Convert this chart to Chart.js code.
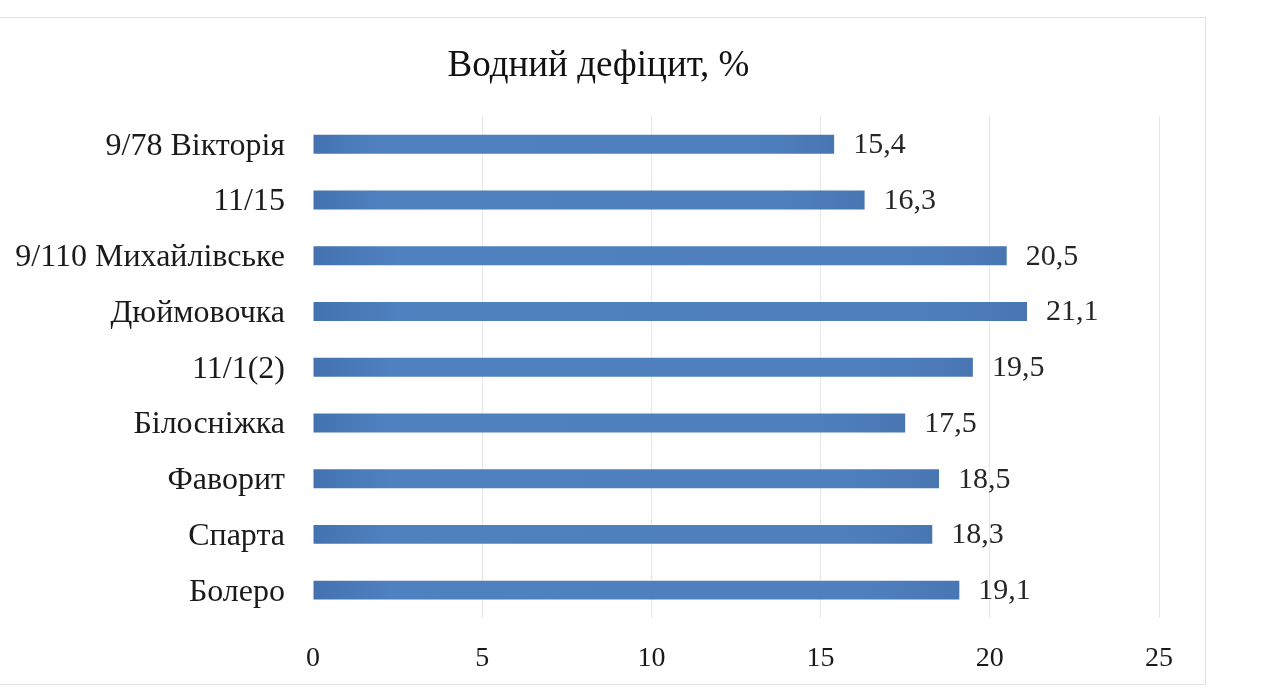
<!DOCTYPE html>
<html>
<head>
<meta charset="utf-8">
<script src="https://cdn.jsdelivr.net/npm/chart.js@4.4.1/dist/chart.umd.min.js"></script>
<style>
  html, body { margin: 0; padding: 0; background: #ffffff; }
  #wrap { position: relative; width: 1274px; height: 695px; overflow: hidden; background: #ffffff; }
  #box { position: absolute; left: -1px; top: 17px; width: 1207px; height: 668px; border: 1px solid #e2e2e2; box-sizing: border-box; }
  #c { position: absolute; left: 0; top: 0; }
</style>
</head>
<body>
<div id="wrap">
  <div id="box"></div>
  <canvas id="c" width="1197" height="695"></canvas>
</div>
<script>
// ---- data ----
const chartTitle = 'Водний дефіцит, %';
const categories = ['9/78 Вікторія', '11/15', '9/110 Михайлівське', 'Дюймовочка', '11/1(2)', 'Білосніжка', 'Фаворит', 'Спарта', 'Болеро'];
const deficitValues = [15.4, 16.3, 20.5, 21.1, 19.5, 17.5, 18.5, 18.3, 19.1];
const xTickValues = [0, 5, 10, 15, 20, 25];

const FONT = '"Liberation Serif", "Times New Roman", serif';

function fmt(v) { return v.toFixed(1).replace('.', ','); }

const valueLabels = {
  id: 'valueLabels',
  afterDatasetsDraw(chart) {
    const ctx = chart.ctx;
    const meta = chart.getDatasetMeta(0);
    ctx.save();
    ctx.font = '30px ' + FONT;
    ctx.fillStyle = '#262626';
    ctx.textAlign = 'left';
    ctx.textBaseline = 'middle';
    meta.data.forEach((el, i) => {
      ctx.fillText(fmt(chart.data.datasets[0].data[i]), el.x + 19, el.y + 1);
    });
    ctx.restore();
  }
};

function barFill(context) {
  const chart = context.chart;
  const xs = chart.scales.x;
  if (!xs || context.dataIndex === undefined) return '#4F81BD';
  const v = context.raw;
  const x0 = xs.getPixelForValue(0);
  const x1 = xs.getPixelForValue(v);
  if (!isFinite(x0) || !isFinite(x1) || x1 <= x0) return '#4F81BD';
  const g = chart.ctx.createLinearGradient(x0, 0, x1, 0);
  g.addColorStop(0, '#4472B0');
  g.addColorStop(0.12, '#4F80BF');
  g.addColorStop(0.85, '#4F80BD');
  g.addColorStop(1, '#4876B3');
  return g;
}

new Chart(document.getElementById('c'), {
  type: 'bar',
  data: {
    labels: categories,
    datasets: [{
      data: deficitValues,
      backgroundColor: barFill,
      borderWidth: 0,
      barPercentage: 0.34,
      categoryPercentage: 1.0
    }]
  },
  options: {
    indexAxis: 'y',
    responsive: false,
    animation: false,
    layout: { padding: { top: 0, left: 0, right: 0, bottom: 22 } },
    plugins: {
      legend: { display: false },
      tooltip: { enabled: false },
      title: {
        display: true,
        text: chartTitle,
        color: '#111111',
        font: { family: FONT, size: 37, weight: 'normal' },
        padding: { top: 44, bottom: 28 }
      }
    },
    scales: {
      x: {
        type: 'linear',
        min: 0,
        max: 25,
        afterBuildTicks(scale) { scale.ticks = xTickValues.map(v => ({ value: v })); },
        afterFit(scale) { scale.height = 55; },
        ticks: {
          color: '#1a1a1a',
          font: { family: FONT, size: 28 },
          padding: 24,
          callback: v => String(v)
        },
        grid: {
          drawTicks: false,
          color: ctx => (ctx.tick && ctx.tick.value === 0) ? 'rgba(0,0,0,0)' : '#e6e6e6',
          lineWidth: 1
        },
        border: { display: false }
      },
      y: {
        type: 'category',
        position: 'left',
        afterFit(scale) { scale.width = 313; },
        ticks: {
          color: '#1a1a1a',
          font: { family: FONT, size: 32 },
          padding: 28,
          labelOffset: 2
        },
        grid: { display: false, drawTicks: false },
        border: { display: false }
      },
      yRight: {
        type: 'category',
        position: 'right',
        afterFit(scale) { scale.width = 37; },
        ticks: { display: false },
        grid: { display: false, drawTicks: false },
        border: { display: false }
      }
    }
  },
  plugins: [valueLabels]
});
</script>
</body>
</html>
